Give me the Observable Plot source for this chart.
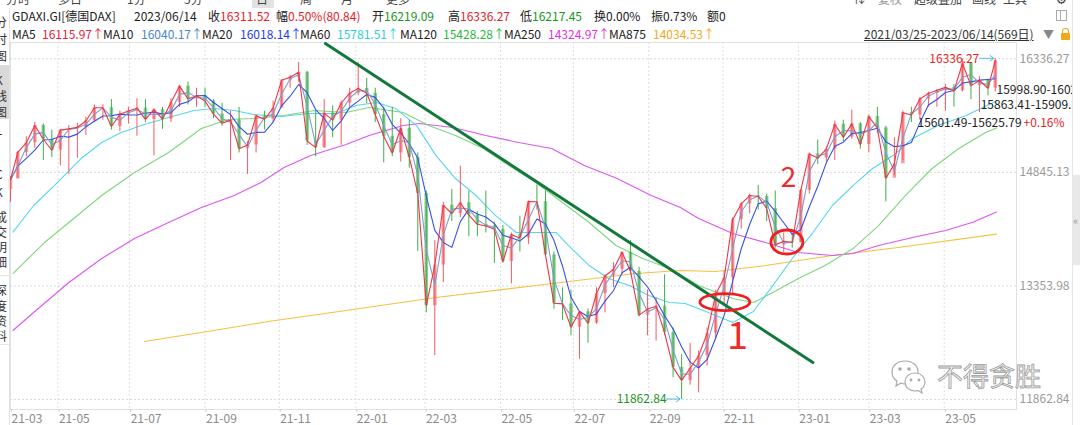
<!DOCTYPE html>
<html><head><meta charset="utf-8">
<script src="https://cdn.jsdelivr.net/npm/d3@7"></script>
<script src="https://cdn.jsdelivr.net/npm/@observablehq/plot@0.6"></script>
<style>
body{margin:0;background:#fff;}
#page{position:relative;width:1080px;height:425px;overflow:hidden;background:#fff;font-family:"Noto Sans CJK SC","Noto Sans",sans-serif;color:#222;}
.a{position:absolute;white-space:nowrap;line-height:16px;}
.r1{top:8px;font-size:12px;}
.r2{top:26px;font-size:12px;}
.red{color:#e8202a}.grn{color:#16961c}
.tb{top:-9px;font-size:12px;color:#444;}
#chart{position:absolute;left:0;top:41px;width:1072px;height:384px;overflow:hidden;}
#strip{position:absolute;left:0;top:8px;width:9px;height:417px;overflow:hidden;border-right:1px solid #e2e2e2;}
#strip .c{position:absolute;left:-5px;font-size:12px;color:#333;line-height:14px;}
#rside{position:absolute;left:1072px;top:0;width:8px;height:425px;border-left:1px solid #e6e6e6;}
</style></head>
<body><div id="page">
  <!-- toolbar (cut) -->
  <div class="a tb" style="left:6px">分时</div>
  <div class="a tb" style="left:58px">多日</div>
  <div class="a tb" style="left:127px">1分</div>
  <div class="a tb" style="left:184px">5分</div>
  <div class="a" style="left:252px;top:0;width:22px;height:8px;background:#e2e2e2"></div>
  <div class="a tb" style="left:256px">日</div>
  <div class="a tb" style="left:300px">周</div>
  <div class="a tb" style="left:341px">月</div>
  <div class="a tb" style="left:386px">更多</div>
  <div class="a tb" style="left:853px">⇅</div>
  <div class="a tb" style="left:878px;color:#999">复权</div>
  <div class="a tb" style="left:914px">超级叠加</div>
  <div class="a tb" style="left:972px">画线</div>
  <div class="a tb" style="left:1003px">工具</div>
  <div class="a tb" style="left:1056px">⚙</div>

  <!-- row 1 -->
  <div class="a r1" style="left:12px">GDAXI.GI[德国DAX]</div>
  <div class="a r1" style="left:134px">2023/06/14</div>
  <div class="a r1" style="left:208px">收<span class="red">16311.52</span></div>
  <div class="a r1" style="left:276px">幅<span class="red">0.50%(80.84)</span></div>
  <div class="a r1" style="left:372px">开<span class="grn">16219.09</span></div>
  <div class="a r1" style="left:448px">高<span class="red">16336.27</span></div>
  <div class="a r1" style="left:520px">低<span class="grn">16217.45</span></div>
  <div class="a r1" style="left:594px">换0.00%</div>
  <div class="a r1" style="left:651px">振0.73%</div>
  <div class="a r1" style="left:707px">额0</div>
  <div class="a" style="left:1056px;top:10px;width:11px;height:11px;border:1px solid #aaa;box-sizing:border-box"></div>
  <div class="a" style="left:1060px;top:10px;width:1px;height:11px;background:#aaa"></div>

  <!-- row 2 MA legend -->
  <div class="a r2" style="left:12px">MA5</div><div class="a r2" style="left:42px;color:#e8203a">16115.97↑</div>
  <div class="a r2" style="left:103px">MA10</div><div class="a r2" style="left:141px;color:#4a86c8">16040.17↑</div>
  <div class="a r2" style="left:202px">MA20</div><div class="a r2" style="left:240px;color:#1e3cf0">16018.14↑</div>
  <div class="a r2" style="left:300px">MA60</div><div class="a r2" style="left:337px;color:#2ccde0">15781.51↑</div>
  <div class="a r2" style="left:400px">MA120</div><div class="a r2" style="left:443px;color:#28b83c">15428.28↑</div>
  <div class="a r2" style="left:504px">MA250</div><div class="a r2" style="left:548px;color:#e030e8">14324.97↑</div>
  <div class="a r2" style="left:609px">MA875</div><div class="a r2" style="left:653px;color:#f0a818">14034.53↑</div>
  <div class="a r2" style="left:864px;color:#333;text-decoration:underline">2021/03/25-2023/06/14(569日)</div>
  <div class="a r2" style="left:1043px;color:#888;font-size:11px">▼</div>
  <div class="a" style="left:1061px;top:33px;width:9px;height:7px;background:#f0a818;border-radius:1px"></div>
  <div class="a" style="left:1062px;top:28px;width:5px;height:6px;border:1.5px solid #f0a818;border-bottom:none;border-radius:3px 3px 0 0"></div>

  <div id="chart"></div>

  <!-- left tab strip -->
  <div id="strip">
    <div class="c" style="top:7px">分</div><div class="c" style="top:24px">时</div><div class="c" style="top:41px">图</div>
    <div style="position:absolute;left:0;top:57px;width:9px;height:54px;background:#d9d9d9"></div>
    <div class="c" style="top:65px">K</div><div class="c" style="top:81px">线</div><div class="c" style="top:97px">图</div>
    <div class="c" style="top:123px">T</div><div class="c" style="top:141px">I</div><div class="c" style="top:159px">C</div><div class="c" style="top:177px">K</div>
    <div class="c" style="top:202px">成</div><div class="c" style="top:217px">交</div><div class="c" style="top:232px">明</div><div class="c" style="top:247px">细</div>
    <div style="position:absolute;left:0;top:267px;width:9px;height:1px;background:#e6e6e6"></div>
    <div class="c" style="top:275px">深</div><div class="c" style="top:291px">度</div><div class="c" style="top:306px">资</div><div class="c" style="top:321px">料</div>
    <div style="position:absolute;left:0;top:336px;width:9px;height:1px;background:#e6e6e6"></div>
  </div>

  <div id="rside"></div>
  <div class="a" style="left:1073px;top:175px;width:7px;height:90px;background:#e8e8e8"></div>
  <div class="a" style="left:1073px;top:212px;font-size:11px;color:#999">«</div>

  <!-- watermark -->
  <svg class="a" style="left:890px;top:358px" width="38" height="38" viewBox="0 0 38 38">
    <path d="M15 3 C7 3 2 8 2 14 C2 18 4 21 7 23 L6 28 L11 25 C12 25.5 14 26 15 26 C23 26 28 21 28 14 C28 8 23 3 15 3 Z" fill="#fff" stroke="#aaa" stroke-width="1.2"/>
    <circle cx="10" cy="11" r="1.8" fill="#aaa"/><circle cx="19" cy="11" r="1.8" fill="#aaa"/>
    <path d="M25 15 C19 15 15 19 15 24 C15 29 19 33 25 33 C26 33 27 33 28 32.5 L32 35 L31 31 C34 29 35 27 35 24 C35 19 31 15 25 15 Z" fill="#fff" stroke="#aaa" stroke-width="1.2"/>
    <circle cx="21" cy="22" r="1.4" fill="#aaa"/><circle cx="29" cy="22" r="1.4" fill="#aaa"/>
  </svg>
  <div class="a" style="left:937px;top:361px;font-size:26px;line-height:28px;color:#fafafa;-webkit-text-stroke:0.8px #9a9a9a;">不得贪胜</div>
</div>

<script>
// ---------------- data (weekly candles) ----------------
const weekDates = ["2021-03-25","2021-03-31","2021-04-07","2021-04-14","2021-04-21","2021-04-28","2021-05-05","2021-05-12","2021-05-19","2021-05-26","2021-06-02","2021-06-09","2021-06-16","2021-06-23","2021-06-30","2021-07-07","2021-07-14","2021-07-21","2021-07-28","2021-08-04","2021-08-11","2021-08-18","2021-08-25","2021-09-01","2021-09-08","2021-09-15","2021-09-22","2021-09-29","2021-10-06","2021-10-13","2021-10-20","2021-10-27","2021-11-03","2021-11-10","2021-11-17","2021-11-24","2021-12-01","2021-12-08","2021-12-15","2021-12-22","2021-12-29",
"2022-01-05","2022-01-12","2022-01-19","2022-01-26","2022-02-02","2022-02-09","2022-02-16","2022-02-23","2022-03-02","2022-03-09","2022-03-16","2022-03-23","2022-03-30","2022-04-06","2022-04-13","2022-04-20","2022-04-27","2022-05-04","2022-05-11","2022-05-18","2022-05-25","2022-06-01","2022-06-08","2022-06-15","2022-06-22","2022-06-29","2022-07-06","2022-07-13","2022-07-20","2022-07-27","2022-08-03","2022-08-10","2022-08-17","2022-08-24","2022-08-31","2022-09-07","2022-09-14","2022-09-21","2022-09-28","2022-10-05","2022-10-12","2022-10-19","2022-10-26","2022-11-02","2022-11-09","2022-11-16","2022-11-23","2022-11-30","2022-12-07","2022-12-14","2022-12-21","2022-12-28",
"2023-01-04","2023-01-11","2023-01-18","2023-01-25","2023-02-01","2023-02-08","2023-02-15","2023-02-22","2023-03-01","2023-03-08","2023-03-15","2023-03-22","2023-03-29","2023-04-05","2023-04-12","2023-04-19","2023-04-26","2023-05-03","2023-05-10","2023-05-17","2023-05-24","2023-05-31","2023-06-07","2023-06-13"];
const opens = [14620,14760,15107,15234,15460,15280,15136,15400,15416,15437,15520,15693,15693,15448,15607,15650,15688,15540,15669,15544,15761,15977,15808,15852,15781,15609,15490,15531,15156,15206,15587,15543,15688,16054,16094,16160,15257,15170,15623,15531,15756,
15885,15948,15883,15604,15318,15100,15425,15042,14567,13094,13628,14413,14305,14446,14284,14163,14142,14098,13674,14027,13982,14462,14460,13761,13126,13118,12813,13015,12864,13254,13484,13573,13795,13544,12971,13050,13088,12741,12284,12114,12273,12438,12731,13243,13460,14224,14431,14541,14529,14370,13893,13940,
13924,14610,15087,15033,15150,15476,15307,15482,15210,15578,15428,14768,14957,15629,15598,15808,15882,15922,15961,15914,16275,15984,16051,15950];
const highs = [14790,15120,15312,15501,15480,15400,15410,15460,15490,15570,15730,15733,15800,15650,15700,15810,15800,15680,15700,15810,15990,16030,15950,15950,15800,15750,15650,15700,15250,15600,15650,15780,16060,16120,16290,16170,15650,15800,15720,15780,15950,
16285,16080,15950,15700,15700,15550,15530,15100,14600,13950,14450,14620,14925,14600,14330,14600,14190,14150,14050,14270,14470,14680,14600,13800,13330,13300,13000,13050,13330,13500,13660,13800,13950,13600,13300,13200,13500,12800,12450,12600,12500,12800,13300,13550,14250,14450,14560,14675,14560,14600,14050,14050,
14620,15100,15270,15180,15520,15530,15660,15500,15600,15700,15450,15300,15650,15700,15830,15900,15930,16000,16000,16330,16280,16100,16070,16336.27];
const lows = [14450,14760,15050,15160,15000,15040,14930,14816,15030,15330,15500,15530,15400,15380,15480,15320,15500,15060,15410,15500,15700,15730,15700,15700,15550,15450,15000,15100,14819,15100,15400,15500,15700,15950,16030,15200,15050,15160,15300,15200,15700,
15850,15750,15500,14970,15050,14980,14900,13807,13000,12439,13400,14200,14250,14000,14000,14050,13650,13650,13380,13800,13900,14350,13750,13050,12900,12700,12391,12600,12850,13000,13330,13500,13500,12950,12700,12630,12700,12150,11862.84,12050,11950,12300,12650,13100,13250,14100,14300,14350,14200,13850,13790,13850,
13920,14560,14950,14980,15000,15250,15280,15150,15100,15350,14458,14800,15000,15500,15550,15700,15700,15650,15700,15900,15800,15630,15850,15900];
const closes = [14748,15107,15234,15460,15280,15136,15400,15416,15437,15520,15693,15693,15448,15607,15650,15688,15540,15669,15544,15761,15977,15808,15852,15781,15609,15490,15531,15156,15206,15587,15543,15688,16054,16094,16160,15257,15170,15623,15531,15756,15885,
15948,15883,15604,15318,15100,15425,15042,14567,13094,13628,14413,14305,14446,14284,14163,14142,14098,13674,14027,13982,14462,14460,13761,13126,13118,12813,13015,12864,13254,13484,13573,13795,13544,12971,13050,13088,12741,12284,12114,12273,12438,12731,13243,13460,14224,14431,14541,14529,14370,13893,13940,13924,
14610,15087,15033,15150,15476,15307,15482,15210,15578,15428,14768,14957,15629,15598,15808,15882,15922,15961,15914,16275,15984,16051,15950,16311.52];

// long moving averages
const ma60Dates = ["2021-03-27","2021-04-13","2021-04-30","2021-05-22","2021-06-08","2021-06-24","2021-07-13","2021-08-02","2021-08-23","2021-09-09","2021-09-25","2021-10-11","2021-11-03","2021-11-25","2021-12-18","2022-01-03","2022-01-20","2022-02-05","2022-02-22","2022-03-10","2022-03-26","2022-04-12","2022-04-28","2022-05-15","2022-05-31","2022-06-17","2022-06-27","2022-07-14","2022-07-30","2022-08-16","2022-09-01","2022-09-18","2022-10-01","2022-10-18","2022-11-09","2022-11-26","2022-12-12","2022-12-28","2023-01-14","2023-01-30","2023-02-16","2023-03-04","2023-03-21","2023-04-06","2023-04-27","2023-05-20","2023-06-14"];
const ma60Values = [14060,14410,14672,15027,15237,15368,15473,15565,15657,15683,15657,15605,15579,15618,15618,15723,15762,15683,15459,15065,14764,14541,14278,14055,14055,14055,13884,13622,13451,13359,13228,13136,13123,13018,12873,13018,13359,13714,14055,14410,14672,14896,15066,15290,15460,15592,15781.51];
const ma120Dates = ["2021-03-27","2021-04-22","2021-05-12","2021-06-08","2021-07-05","2021-08-02","2021-08-29","2021-09-20","2021-10-11","2021-11-05","2021-11-30","2021-12-26","2022-01-14","2022-02-11","2022-03-04","2022-03-26","2022-04-18","2022-05-09","2022-05-31","2022-06-22","2022-07-14","2022-08-05","2022-08-27","2022-09-18","2022-10-12","2022-11-09","2022-11-26","2022-12-12","2023-01-02","2023-01-24","2023-02-16","2023-03-09","2023-03-31","2023-04-22","2023-05-14","2023-06-05","2023-06-14"];
const ma120Values = [13517,13924,14187,14541,14843,15106,15421,15539,15552,15592,15657,15631,15697,15631,15460,15329,15158,14935,14712,14449,14187,13885,13714,13583,13359,13189,13136,13268,13451,13622,13845,14147,14541,14896,15158,15368,15428.28];
const ma250Dates = ["2021-03-27","2021-04-13","2021-05-12","2021-06-08","2021-07-05","2021-08-02","2021-08-29","2021-09-25","2021-10-17","2021-11-05","2021-11-27","2021-12-26","2022-01-14","2022-02-11","2022-02-24","2022-03-24","2022-04-20","2022-05-17","2022-06-13","2022-07-10","2022-08-06","2022-09-03","2022-09-27","2022-10-12","2022-11-09","2022-12-06","2023-01-02","2023-01-30","2023-02-16","2023-03-09","2023-04-06","2023-05-03","2023-05-25","2023-06-14"];
const ma250Values = [12769,13005,13399,13714,13976,14187,14384,14541,14712,14909,15066,15211,15329,15460,15486,15434,15329,15237,15158,14935,14764,14541,14384,14239,14042,13924,13793,13753,13779,13885,13990,14082,14187,14324.97];
const ma875Dates = ["2021-07-13","2021-08-29","2021-10-23","2021-12-26","2022-03-10","2022-05-31","2022-08-21","2022-09-27","2022-10-26","2022-12-06","2023-01-30","2023-03-25","2023-06-14"];
const ma875Values = [12624,12742,12887,13031,13202,13359,13517,13556,13543,13622,13753,13858,14034.53];

// drawn annotations
const trendDates = ["2021-12-09","2023-01-14"];
const trendValues = [16537,12348];
const circleDates = ["2022-11-03","2022-12-24"];
const circleValues = [13136,13924];
const markLabels = ["1","2"];
const markDates = ["2022-11-13","2022-12-25"];
const markValues = [12690,14765];
const gapLabels = ["15998.90-16023.53","15863.41-15909.29","15601.49-15625.79"];
const gapDates = ["2023-06-14","2023-06-01","2023-04-10"];
const gapValues = [15998.90,15863.41,15601.49];
const gapChange = "+0.16%";

// axes
const yTicks = [11862.84,13353.98,14845.13,16336.27];
const xTicks = ["2021-03-25","2021-05-03","2021-07-01","2021-09-01","2021-11-01","2022-01-03","2022-03-01","2022-05-02","2022-07-01","2022-09-01","2022-11-01","2023-01-02","2023-03-01","2023-05-02"];
const maxPoint = {date:"2023-06-13", value:16336.27};
const minPoint = {date:"2022-09-28", value:11862.84};

// ---------------- build ----------------
const D = s => new Date(s);
const candles = weekDates.map((d,i)=>({date:D(d),open:opens[i],high:highs[i],low:lows[i],close:closes[i]}));
const series = (ds, vs) => ds.map((d,i)=>({date:D(d), v:vs[i]}));
const ma60 = series(ma60Dates, ma60Values), ma120 = series(ma120Dates, ma120Values),
      ma250 = series(ma250Dates, ma250Values), ma875 = series(ma875Dates, ma875Values),
      trend = series(trendDates, trendValues);
const marks1 = markLabels.map((t,i)=>({t, date:D(markDates[i]), v:markValues[i]}));
const gaps = gapLabels.map((t,i)=>({t, i, date:D(gapDates[i]), v:gapValues[i]}));
const UP = "#f25a60", DN = "#3fad4a";
const col = d => d.close >= d.open ? UP : DN;
const font = "Noto Sans CJK SC, Noto Sans, sans-serif";

function overlay(index, scales) {
  const X = scales.x, Y = scales.y;
  const g = d3.create("svg:g");
  const rr = [[25,8.5],[16,12]];
  circleDates.forEach((d,i)=>{
    g.append("ellipse").attr("cx", X(D(d))).attr("cy", Y(circleValues[i]))
      .attr("rx", rr[i][0]).attr("ry", rr[i][1]).attr("fill","none")
      .attr("stroke","#f01e1e").attr("stroke-width",2.8);
  });
  const arrow = (p) => {
    const x = X(D(p.date)), y = Y(p.value);
    g.append("line").attr("x1",x-15).attr("x2",x-1).attr("y1",y).attr("y2",y).attr("stroke","#55b8e0").attr("stroke-width",1);
    g.append("path").attr("d",`M${x-5},${y-3}L${x-1},${y}L${x-5},${y+3}`).attr("fill","none").attr("stroke","#55b8e0").attr("stroke-width",1);
  };
  arrow(maxPoint); arrow(minPoint);
  return g.node();
}

const chart = Plot.plot({
  width: 1072, height: 384,
  marginTop: 1, marginLeft: 10, marginRight: 56, marginBottom: 16,
  x: {type: "utc", domain: [D("2021-03-25"), D("2023-06-14")], range: [10, 996]},
  y: {domain: [11862.84, 16336.27], range: [358, 17.3]},
  style: {fontFamily: font, fontSize: "12px", background: "transparent"},
  marks: [
    Plot.ruleY(yTicks, {stroke: "#d8d8d8", strokeDasharray: "2,2"}),
    Plot.ruleX(xTicks.slice(1).map(D), {stroke: "#dedede", strokeDasharray: "2,2"}),
    Plot.frame({stroke: "#e0e0e0"}),
    Plot.axisX(xTicks.map(D), {anchor: "bottom", tickFormat: d3.utcFormat("%y-%m"), tickSize: 3, tickPadding: 2,
      textAnchor: "start", dx: 1, stroke: "#cfcfcf", fill: "#8a8a8a", fontSize: 12, label: null}),
    Plot.axisY(yTicks, {anchor: "right", tickFormat: d => d.toFixed(2), tickSize: 0, tickPadding: 3,
      fill: "#9a9a9a", fontSize: 12, label: null}),
    Plot.line(ma875, {x: "date", y: "v", stroke: "#f8c043", strokeWidth: 1.1}),
    Plot.line(ma250, {x: "date", y: "v", stroke: "#dc55f2", strokeWidth: 1.1}),
    Plot.line(ma120, {x: "date", y: "v", stroke: "#7ed67c", strokeWidth: 1.1}),
    Plot.line(ma60, {x: "date", y: "v", stroke: "#56d6ee", strokeWidth: 1.1}),
    Plot.ruleX(candles, {x: "date", y1: "low", y2: "high", stroke: col, strokeWidth: 1}),
    Plot.ruleX(candles, {x: "date", y1: "open", y2: "close", stroke: col, strokeWidth: 3.5, strokeOpacity: 0.6}),
    Plot.lineY(candles, Plot.windowY({k: 4, anchor: "end"}, {x: "date", y: "close", stroke: "#3452e6", strokeWidth: 1.1})),
    Plot.lineY(candles, Plot.windowY({k: 2, anchor: "end"}, {x: "date", y: "close", stroke: "#7f9dcb", strokeWidth: 1.1})),
    Plot.lineY(candles, {x: "date", y: "close", stroke: "#ee3548", strokeWidth: 1.1}),
    Plot.line(trend, {x: "date", y: "v", stroke: "#13783b", strokeWidth: 3}),
    overlay,
    Plot.text(marks1, {x: "date", y: "v", text: "t", fill: "#f02a2a", fontSize: d => d.t === "1" ? 38 : 28, fontFamily: font}),
    Plot.text([maxPoint], {x: d => D(d.date), y: "value", text: d => d.value.toFixed(2), dx: -16, textAnchor: "end", fill: "#e41f1f", fontSize: 12}),
    Plot.text([minPoint], {x: d => D(d.date), y: "value", text: d => d.value.toFixed(2), dx: -15, textAnchor: "end", fill: "#1f951f", fontSize: 12}),
    Plot.text(gaps.filter(d => d.i === 0), {x: "date", y: "v", text: "t", textAnchor: "start", dy: 6, fill: "#222", fontSize: 12}),
    Plot.text(gaps.filter(d => d.i === 1), {x: "date", y: "v", text: "t", textAnchor: "start", dy: 10, fill: "#222", fontSize: 12}),
    Plot.text(gaps.filter(d => d.i === 2), {x: "date", y: "v", text: "t", textAnchor: "start", dy: 8, fill: "#222", fontSize: 12}),
    Plot.text([gaps[2]], {x: "date", y: "v", text: () => gapChange, textAnchor: "start", dx: 106, dy: 8, fill: "#e41f1f", fontSize: 12})
  ]
});
document.getElementById("chart").appendChild(chart);
</script>
</body></html>
